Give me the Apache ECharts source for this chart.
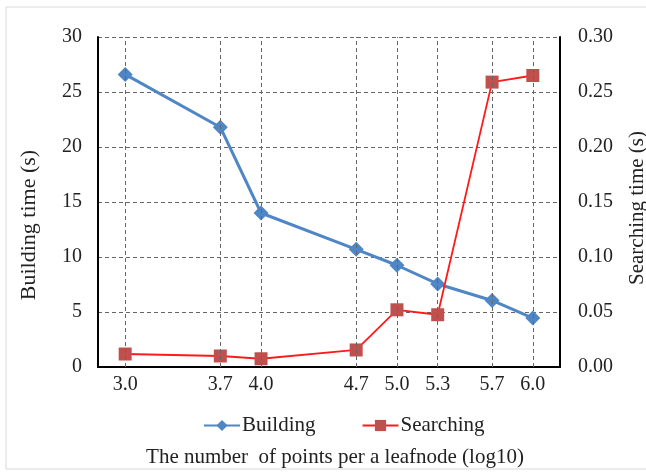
<!DOCTYPE html>
<html><head><meta charset="utf-8">
<script src="https://cdn.jsdelivr.net/npm/echarts@6/dist/echarts.min.js"></script>
<style>html,body{margin:0;padding:0;background:#fff}#c{width:646px;height:475px}</style>
</head><body><div id="c"></div>
<script>
const xValues = [3.0, 3.7, 4.0, 4.7, 5.0, 5.3, 5.7, 6.0];
const xTickLabels = ['3.0','3.7','4.0','4.7','5.0','5.3','5.7','6.0'];
const building = [26.6, 21.8, 14.0, 10.7, 9.25, 7.55, 6.05, 4.45];
const searching = [0.0118, 0.0100, 0.0075, 0.0155, 0.0520, 0.0475, 0.2590, 0.2650];

const font = 'Liberation Serif';
const fs = 20;
const chart = echarts.init(document.getElementById('c'));
const pair = (xs, ys) => xs.map((x, i) => [x, ys[i]]);
chart.setOption({
  animation: false,
  graphic: [{type:'rect', shape:{x:6,y:7,width:645,height:462}, style:{fill:'none', stroke:'#d9d9d9', lineWidth:1}, silent:true}],
  grid: {left: 98, right: 86, top: 37, bottom: 108, outerBoundsMode: 'none', containLabel: false},
  legend: {
    bottom: 34, left: 198, itemGap: 46, itemWidth: 36, itemHeight: 14,
    textStyle: {fontFamily: font, fontSize: fs + 1, color: '#222', padding: [0, 0, 0, -3]},
    data: ['Building', 'Searching']
  },
  xAxis: {
    type: 'value', min: 2.8, max: 6.2,
    name: 'The number  of points per a leafnode (log10)', nameLocation: 'middle', nameGap: 80,
    nameTextStyle: {fontFamily: font, fontSize: fs + 1, color: '#222', padding: [0, 0, 0, 12]},
    axisLine: {onZero: false, lineStyle: {color: '#000', width: 2}},
    axisTick: {show: false},
    splitLine: {show: false},
    axisLabel: {customValues: xValues, formatter: v => xTickLabels[xValues.indexOf(Math.round(v*10)/10)] ?? '', fontFamily: font, fontSize: fs, color: '#222', margin: 8}
  },
  yAxis: [{
    type: 'value', min: 0, max: 30, interval: 5,
    name: 'Building time (s)', nameLocation: 'middle', nameGap: 58,
    nameTextStyle: {fontFamily: font, fontSize: fs + 2, color: '#222', padding: [0, 46, 0, 0]},
    axisLine: {show: true, lineStyle: {color: '#000', width: 2}},
    axisTick: {show: false},
    axisLabel: {fontFamily: font, fontSize: fs, color: '#222', margin: 16},
    splitLine: {lineStyle: {type: [4, 3], color: '#666', width: 1}}
  }, {
    type: 'value', min: 0, max: 0.30, interval: 0.05,
    name: 'Searching time (s)', nameLocation: 'middle', nameGap: 67, nameRotate: 90,
    nameTextStyle: {fontFamily: font, fontSize: fs + 1, color: '#222', padding: [0, 12, 0, 0]},
    axisLine: {show: true, lineStyle: {color: '#000', width: 2}},
    axisTick: {show: false},
    axisLabel: {fontFamily: font, fontSize: fs, color: '#222', margin: 18, formatter: v => v.toFixed(2)},
    splitLine: {show: false}
  }],
  series: [{
    name: 'Building', type: 'line', yAxisIndex: 0,
    data: pair(xValues, building),
    symbol: 'diamond', symbolSize: 15,
    lineStyle: {color: '#4f86c6', width: 3},
    itemStyle: {color: '#4f86c6'},
    z: 3,
    markLine: {
      silent: true, symbol: 'none', label: {show: false},
      lineStyle: {type: [4, 3], color: '#666', width: 1},
      data: xValues.map(v => ({xAxis: v}))
    }
  }, {
    name: 'Searching', type: 'line', yAxisIndex: 1,
    data: pair(xValues, searching),
    symbol: 'rect', symbolSize: 13,
    lineStyle: {color: '#ff1a1a', width: 1.8},
    itemStyle: {color: '#c0504d'},
    z: 4
  }]
});
</script></body></html>
